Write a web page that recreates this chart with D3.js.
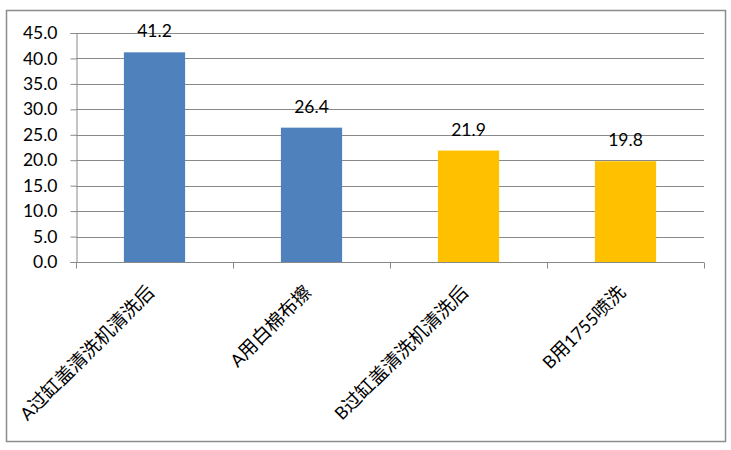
<!DOCTYPE html>
<html>
<head>
<meta charset="utf-8">
<script src="https://cdn.jsdelivr.net/npm/d3@7"></script>
<style>
  html, body { margin: 0; padding: 0; background: #fff; }
  svg { display: block; }
</style>
</head>
<body>
<svg id="chart" width="731" height="450"></svg>
<script>
const categories = ["A过缸盖清洗机清洗后", "A用白棉布擦", "B过缸盖清洗机清洗后", "B用1755喷洗"];
const values = [41.2, 26.4, 21.9, 19.8];
const groups = ["A", "A", "B", "B"];
const yTicks = [0, 5, 10, 15, 20, 25, 30, 35, 40, 45];

const latinFont = "Lato, 'Open Sans', 'Liberation Sans', sans-serif";
const cjkFont = "'Noto Sans CJK SC', sans-serif";
const gridColor = "#898989";
const colorScale = d3.scaleOrdinal().domain(["A", "B"]).range(["#4F81BD", "#FFC000"]);

const svg = d3.select("#chart");
const margin = { left: 76, right: 731 - 704, top: 33, bottom: 450 - 262 };
const W = 731, H = 450;

// outer frame
svg.append("rect")
  .attr("x", 6.5).attr("y", 10.5).attr("width", 719).attr("height", 431)
  .attr("fill", "#fff").attr("stroke", "#8c8c8c").attr("stroke-width", 1.5);

const x = d3.scaleBand()
  .domain(categories)
  .range([margin.left, W - margin.right])
  .paddingInner(0.61).paddingOuter(0.305);

const y = d3.scaleLinear().domain([0, 45]).range([H - margin.bottom, margin.top]);

// gridlines
svg.append("g")
  .selectAll("line")
  .data(yTicks.filter(d => d > 0))
  .join("line")
  .attr("x1", margin.left).attr("x2", W - margin.right)
  .attr("y1", d => Math.round(y(d)) + 0.5).attr("y2", d => Math.round(y(d)) + 0.5)
  .attr("stroke", gridColor).attr("stroke-width", 1);

// y axis
const yAxis = svg.append("g")
  .attr("transform", `translate(${margin.left + 0.5},0)`)
  .call(d3.axisLeft(y).tickValues(yTicks).tickFormat(d3.format(".1f")).tickSize(6).tickPadding(13));
yAxis.select(".domain").attr("stroke", gridColor);
yAxis.selectAll(".tick line").attr("stroke", gridColor);
yAxis.selectAll(".tick text")
  .attr("font-family", latinFont).attr("font-size", 17.5).attr("fill", "#000");

// bars
svg.append("g")
  .selectAll("rect")
  .data(categories)
  .join("rect")
  .attr("x", d => x(d))
  .attr("width", x.bandwidth())
  .attr("y", (d, i) => y(values[i]))
  .attr("height", (d, i) => y(0) - y(values[i]))
  .attr("fill", (d, i) => colorScale(groups[i]));

// value labels
svg.append("g")
  .selectAll("text")
  .data(categories)
  .join("text")
  .attr("x", d => x(d) + x.bandwidth() / 2)
  .attr("y", (d, i) => y(values[i]) - 15)
  .attr("text-anchor", "middle")
  .attr("font-family", latinFont).attr("font-size", 17.5).attr("fill", "#000")
  .text((d, i) => d3.format(".1f")(values[i]));

// x axis
const xBase = Math.round(y(0)) + 0.5;
const xAxisG = svg.append("g").attr("transform", `translate(0,${xBase})`);
xAxisG.append("line")
  .attr("x1", margin.left).attr("x2", W - margin.right)
  .attr("stroke", gridColor);
const boundaries = categories.map(d => x(d) - x.step() * x.paddingInner() / 2);
boundaries.push(W - margin.right);
xAxisG.selectAll("line.tk")
  .data(boundaries)
  .join("line").attr("class", "tk")
  .attr("x1", d => Math.round(d) + 0.5).attr("x2", d => Math.round(d) + 0.5)
  .attr("y1", 0).attr("y2", 6)
  .attr("stroke", gridColor);

// rotated category labels
const labels = svg.append("g")
  .selectAll("text")
  .data(categories)
  .join("text")
  .attr("text-anchor", "end")
  .attr("fill", "#000")
  .attr("transform", d => `translate(${x(d) + x.bandwidth() / 2 + 1},${xBase + 31}) rotate(-45)`);
labels.each(function(d) {
  const runs = d.match(/[\u4e00-\u9fff]+|[^\u4e00-\u9fff]+/g);
  const t = d3.select(this);
  runs.forEach(r => {
    const cjk = /[\u4e00-\u9fff]/.test(r);
    t.append("tspan")
      .attr("font-family", cjk ? cjkFont : latinFont)
      .attr("font-size", cjk ? 18.8 : 17.5)
      .text(r);
  });
});
</script>
</body>
</html>
